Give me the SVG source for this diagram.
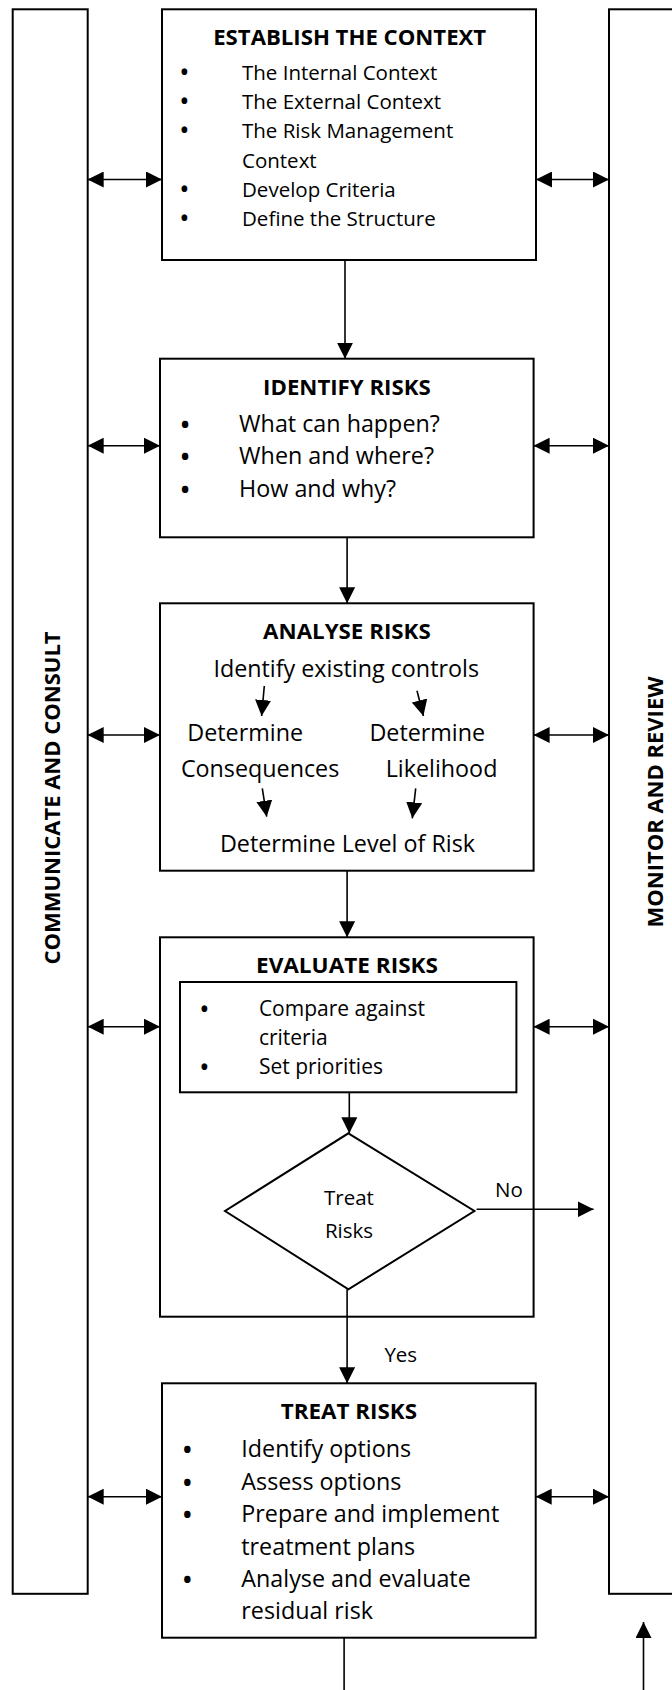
<svg xmlns="http://www.w3.org/2000/svg" width="672" height="1690" viewBox="0 0 672 1690">
<style>
text{font-family:"Open Sans","Liberation Sans",sans-serif;fill:#000}
.t{font-weight:bold;font-size:21px;text-anchor:middle}
.i{font-size:20.5px}
.j{font-size:23.3px}
.k{font-size:21px}
.b{text-anchor:middle;font-size:23px;font-weight:bold}
.bs{text-anchor:middle;font-size:20.5px;font-weight:bold}
.side{font-weight:bold;font-size:22px;text-anchor:middle}
.box{fill:#fff;stroke:#000;stroke-width:2}
.ln{fill:none;stroke:#000;stroke-width:1.6}
</style>
<defs>
<marker id="ah" markerUnits="userSpaceOnUse" markerWidth="16" markerHeight="16" viewBox="0 0 15 15" refX="15" refY="7.5" orient="auto-start-reverse">
<path d="M0,0 L15,7.5 L0,15 z" fill="#000"/>
</marker>
</defs>

<g id="communicate">
<rect class="box" x="12.7" y="9.3" width="75" height="1584.5"/>
<text class="side" transform="translate(60,798) rotate(-90)">COMMUNICATE AND CONSULT</text>
</g>

<g id="monitor">
<rect class="box" x="609" y="9.3" width="100" height="1584.5"/>
<text class="side" transform="translate(663,802) rotate(-90)">MONITOR AND REVIEW</text>
</g>

<g id="establish">
<rect class="box" x="162" y="9.3" width="374" height="250.7"/>
<text class="t" x="349.7" y="45" font-size="20" textLength="273" lengthAdjust="spacingAndGlyphs">ESTABLISH THE CONTEXT</text>
<g class="i">
<text class="bs" x="184.3" y="80">•</text><text x="242" y="80">The Internal Context</text>
<text class="bs" x="184.3" y="109.3">•</text><text x="242" y="109.3">The External Context</text>
<text class="bs" x="184.3" y="138.3">•</text><text x="242" y="138.3">The Risk Management</text>
<text x="242" y="167.7">Context</text>
<text class="bs" x="184.3" y="196.7">•</text><text x="242" y="196.7">Develop Criteria</text>
<text class="bs" x="184.3" y="226">•</text><text x="242" y="226">Define the Structure</text>
</g>
</g>

<g id="identify">
<rect class="box" x="160" y="358.7" width="373.6" height="178.6"/>
<text class="t" x="346.9" y="395" font-size="22" textLength="167.6" lengthAdjust="spacingAndGlyphs">IDENTIFY RISKS</text>
<g class="j">
<text class="b" x="185.1" y="432.5">•</text><text x="239.1" y="431.7">What can happen?</text>
<text class="b" x="185.1" y="465.1">•</text><text x="239.1" y="464.3">When and where?</text>
<text class="b" x="185.1" y="497.5">•</text><text x="239.1" y="496.7">How and why?</text>
</g>
</g>

<g id="analyse">
<rect class="box" x="160" y="603.3" width="373.6" height="267.4"/>
<text class="t" x="346.9" y="639" font-size="22" textLength="167.6" lengthAdjust="spacingAndGlyphs">ANALYSE RISKS</text>
<g class="j" font-size="23">
<text x="213.4" y="676.7">Identify existing controls</text>
<text x="187.3" y="740.7">Determine</text>
<text x="369.4" y="740.7">Determine</text>
<text x="180.9" y="777.3">Consequences</text>
<text x="385.7" y="777.3">Likelihood</text>
<text x="219.9" y="851.7">Determine Level of Risk</text>
</g>
</g>

<g id="evaluate">
<rect class="box" x="160" y="937.3" width="373.6" height="379.4"/>
<text class="t" x="347" y="973.3" font-size="22" textLength="182" lengthAdjust="spacingAndGlyphs">EVALUATE RISKS</text>
</g>

<g id="evaluate-criteria">
<rect class="box" x="180" y="982" width="336.4" height="110.3"/>
<g class="k">
<text class="bs" x="204.4" y="1016.5">•</text><text x="258.9" y="1016">Compare against</text>
<text x="258.9" y="1045">criteria</text>
<text class="bs" x="204.4" y="1074.5">•</text><text x="258.9" y="1074">Set priorities</text>
</g>
</g>

<g id="decision">
<polygon class="box" points="348.4,1133.3 474.4,1211 348.4,1289.3 225,1211"/>
<text class="i" text-anchor="middle" x="349" y="1205">Treat</text>
<text class="i" text-anchor="middle" x="349" y="1238.3">Risks</text>
</g>

<g id="treat">
<rect class="box" x="162" y="1383.3" width="373.7" height="254.4"/>
<text class="t" x="348.9" y="1419" font-size="22" textLength="136.3" lengthAdjust="spacingAndGlyphs">TREAT RISKS</text>
<g class="j">
<text class="b" x="187.3" y="1457.5">•</text><text x="241.3" y="1456.7">Identify options</text>
<text class="b" x="187.3" y="1490.8">•</text><text x="241.3" y="1490">Assess options</text>
<text class="b" x="187.3" y="1523.1">•</text><text x="241.3" y="1522.3">Prepare and implement</text>
<text x="241.3" y="1555">treatment plans</text>
<text class="b" x="187.3" y="1588.1">•</text><text x="241.3" y="1587.3">Analyse and evaluate</text>
<text x="241.3" y="1619.3">residual risk</text>
</g>
</g>

<g id="connectors">
<line class="ln" x1="345" y1="260" x2="345" y2="358.7" marker-end="url(#ah)"/>
<line class="ln" x1="347.1" y1="537.3" x2="347.1" y2="603.3" marker-end="url(#ah)"/>
<line class="ln" x1="347.1" y1="870.7" x2="347.1" y2="937.3" marker-end="url(#ah)"/>
<line class="ln" x1="349.3" y1="1092.3" x2="349.3" y2="1133.3" marker-end="url(#ah)"/>
<line class="ln" x1="347.1" y1="1289.3" x2="347.1" y2="1383.3" marker-end="url(#ah)"/>
<line class="ln" x1="476.6" y1="1209.3" x2="593.6" y2="1209.3" marker-end="url(#ah)"/>
<line class="ln" x1="344.1" y1="1637.7" x2="344.1" y2="1690"/>
<line class="ln" x1="643.5" y1="1690" x2="643.5" y2="1622" marker-end="url(#ah)"/>
<line class="ln" x1="264.3" y1="686" x2="261.6" y2="716" marker-end="url(#ah)"/>
<line class="ln" x1="417" y1="690.7" x2="423.4" y2="716" marker-end="url(#ah)"/>
<line class="ln" x1="262.3" y1="788.3" x2="266.7" y2="816.7" marker-end="url(#ah)"/>
<line class="ln" x1="415.7" y1="788.3" x2="412.3" y2="818.3" marker-end="url(#ah)"/>
<line class="ln" x1="87.7" y1="179.5" x2="162" y2="179.5" marker-start="url(#ah)" marker-end="url(#ah)"/>
<line class="ln" x1="536" y1="179.5" x2="609" y2="179.5" marker-start="url(#ah)" marker-end="url(#ah)"/>
<line class="ln" x1="87.7" y1="445.7" x2="160" y2="445.7" marker-start="url(#ah)" marker-end="url(#ah)"/>
<line class="ln" x1="533.6" y1="445.7" x2="609" y2="445.7" marker-start="url(#ah)" marker-end="url(#ah)"/>
<line class="ln" x1="87.7" y1="735" x2="160" y2="735" marker-start="url(#ah)" marker-end="url(#ah)"/>
<line class="ln" x1="533.6" y1="735" x2="609" y2="735" marker-start="url(#ah)" marker-end="url(#ah)"/>
<line class="ln" x1="87.7" y1="1026.7" x2="160" y2="1026.7" marker-start="url(#ah)" marker-end="url(#ah)"/>
<line class="ln" x1="533.6" y1="1026.7" x2="609" y2="1026.7" marker-start="url(#ah)" marker-end="url(#ah)"/>
<line class="ln" x1="87.7" y1="1496.7" x2="162" y2="1496.7" marker-start="url(#ah)" marker-end="url(#ah)"/>
<line class="ln" x1="535.7" y1="1496.7" x2="609" y2="1496.7" marker-start="url(#ah)" marker-end="url(#ah)"/>
<text class="i" x="495" y="1196.7">No</text>
<text class="i" x="384.4" y="1361.7">Yes</text>
</g>
</svg>
